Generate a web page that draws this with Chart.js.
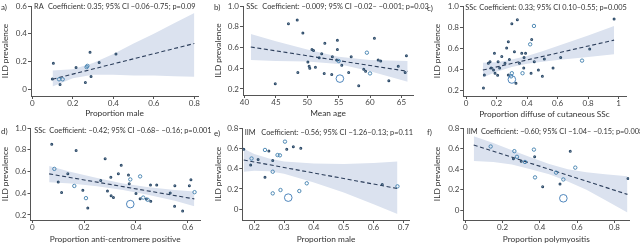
<!DOCTYPE html>
<html>
<head>
<meta charset="utf-8">
<script src="https://cdn.jsdelivr.net/npm/chart.js@4.4.1/dist/chart.umd.min.js"></script>
<style>
  body { margin: 0; background: #fff; width: 640px; height: 245px; overflow: hidden; position: relative; font-family: Lato, sans-serif; color: #333; }
  .panel { position: absolute; }
  .panel canvas { position: absolute; left: 0; top: 0; }
  .txt { position: absolute; white-space: pre; line-height: 1; color: #333; }
</style>
</head>
<body>
<script>
// ---- data: [x, ILD prevalence, study weight 1-3] ----
const ptsA = [[0.104, 0.188, 1], [0.099, 0.075, 1], [0.132, 0.072, 2], [0.15, 0.072, 2], [0.137, 0.034, 1],
  [0.216, 0.157, 1], [0.262, 0.05, 1], [0.272, 0.169, 2], [0.268, 0.16, 2], [0.285, 0.267, 1],
  [0.29, 0.092, 1], [0.33, 0.193, 1], [0.413, 0.255, 1]];
const ptsB = [[47.0, 0.83, 1], [48.4, 0.865, 1], [49.3, 0.74, 1], [44.9, 0.25, 1], [48.5, 0.36, 1],
  [50.75, 0.58, 1], [51.0, 0.57, 1], [50.1, 0.46, 1], [50.3, 0.42, 1], [50.4, 0.40, 1],
  [51.3, 0.41, 1], [51.9, 0.50, 1], [52.3, 0.54, 1], [52.8, 0.64, 1], [52.7, 0.35, 1],
  [53.9, 0.34, 1], [54.0, 0.51, 1], [54.8, 0.67, 1], [54.8, 0.58, 1], [54.7, 0.48, 1],
  [55.0, 0.47, 2], [55.2, 0.30, 3], [55.5, 0.43, 1], [56.6, 0.36, 1], [57.0, 0.51, 1],
  [58.2, 0.23, 1], [59.5, 0.55, 2], [59.0, 0.39, 1], [59.3, 0.37, 1], [60.0, 0.35, 2],
  [60.7, 0.69, 1], [61.3, 0.48, 1], [61.7, 0.47, 1], [63.0, 0.28, 1], [64.5, 0.42, 1],
  [65.6, 0.36, 1], [65.8, 0.52, 1]];
const ptsC = [[0.114, 0.22, 1], [0.12, 0.343, 1], [0.146, 0.454, 1], [0.157, 0.47, 1], [0.164, 0.41, 1],
  [0.18, 0.39, 1], [0.186, 0.55, 1], [0.19, 0.36, 1], [0.207, 0.34, 1], [0.21, 0.47, 1],
  [0.22, 0.41, 1], [0.234, 0.52, 1], [0.255, 0.454, 1], [0.266, 0.60, 1], [0.277, 0.66, 1],
  [0.277, 0.343, 1], [0.284, 0.49, 1], [0.295, 0.33, 2], [0.30, 0.36, 2], [0.30, 0.30, 3],
  [0.30, 0.83, 1], [0.317, 0.565, 1], [0.327, 0.264, 1], [0.336, 0.87, 1], [0.35, 0.454, 1],
  [0.365, 0.55, 1], [0.37, 0.36, 2], [0.378, 0.41, 1], [0.38, 0.51, 1], [0.39, 0.55, 1],
  [0.42, 0.635, 2], [0.426, 0.36, 1], [0.43, 0.68, 1], [0.445, 0.81, 2], [0.447, 0.47, 1],
  [0.474, 0.39, 1], [0.50, 0.33, 1], [0.513, 0.495, 1], [0.57, 0.41, 1], [0.62, 0.51, 1],
  [0.76, 0.48, 2], [0.81, 0.59, 1], [0.97, 0.876, 1]];
const ptsD = [[0.075, 0.85, 1], [0.169, 0.794, 1], [0.085, 0.624, 2], [0.10, 0.503, 1], [0.113, 0.406, 1],
  [0.137, 0.58, 1], [0.162, 0.467, 2], [0.195, 0.427, 1], [0.207, 0.355, 2], [0.214, 0.264, 1],
  [0.281, 0.718, 1], [0.343, 0.658, 1], [0.303, 0.548, 1], [0.264, 0.518, 1], [0.29, 0.42, 1],
  [0.304, 0.376, 1], [0.313, 0.36, 1], [0.378, 0.30, 3], [0.371, 0.567, 1], [0.378, 0.527, 2],
  [0.374, 0.488, 1], [0.40, 0.397, 1], [0.416, 0.555, 2], [0.416, 0.35, 1], [0.428, 0.36, 2],
  [0.44, 0.348, 1], [0.445, 0.34, 2], [0.457, 0.327, 1], [0.456, 0.476, 1], [0.48, 0.476, 1],
  [0.532, 0.403, 1], [0.549, 0.28, 1], [0.58, 0.236, 1], [0.55, 0.47, 1], [0.606, 0.47, 1],
  [0.612, 0.524, 1], [0.626, 0.41, 2], [0.332, 0.58, 1]];
const ptsE = [[0.165, 0.59, 1], [0.191, 0.50, 2], [0.188, 0.436, 1], [0.213, 0.49, 1], [0.236, 0.584, 2],
  [0.249, 0.574, 1], [0.236, 0.315, 1], [0.262, 0.48, 1], [0.262, 0.37, 2], [0.262, 0.157, 2],
  [0.278, 0.534, 2], [0.286, 0.531, 2], [0.288, 0.19, 2], [0.303, 0.666, 2], [0.309, 0.59, 1],
  [0.314, 0.115, 3], [0.331, 0.616, 1], [0.351, 0.18, 2], [0.356, 0.60, 1], [0.376, 0.256, 2],
  [0.629, 0.245, 1], [0.68, 0.226, 2]];
const ptsF = [[0.136, 0.62, 2], [0.263, 0.575, 2], [0.277, 0.52, 2], [0.258, 0.50, 1], [0.30, 0.476, 1],
  [0.32, 0.47, 2], [0.368, 0.59, 2], [0.372, 0.52, 1], [0.374, 0.32, 2], [0.415, 0.23, 1],
  [0.487, 0.366, 2], [0.508, 0.256, 1], [0.526, 0.30, 2], [0.526, 0.117, 3], [0.563, 0.573, 1],
  [0.59, 0.415, 2], [0.873, 0.31, 1]];

// fitted line (two ends) and 95% CI band
const fitA = [[0.1, 0.073], [0.8, 0.33]];
const bandXA = [0.1, 0.2, 0.3, 0.4, 0.5, 0.6, 0.7, 0.8];
const bandUpA = [0.135, 0.145, 0.19, 0.255, 0.33, 0.40, 0.475, 0.55];
const bandLoA = [0.02, 0.08, 0.105, 0.105, 0.10, 0.10, 0.095, 0.09];

const fitB = [[41, 0.605], [66, 0.37]];
const bandXB = [41, 45, 50, 55, 60, 66];
const bandUpB = [0.73, 0.66, 0.58, 0.51, 0.48, 0.47];
const bandLoB = [0.48, 0.47, 0.465, 0.44, 0.37, 0.27];

const fitC = [[0.11, 0.39], [0.97, 0.675]];
const bandXC = [0.11, 0.2, 0.3, 0.4, 0.5, 0.6, 0.7, 0.8, 0.97];
const bandUpC = [0.46, 0.465, 0.49, 0.525, 0.57, 0.62, 0.67, 0.72, 0.81];
const bandLoC = [0.32, 0.375, 0.42, 0.45, 0.47, 0.485, 0.50, 0.515, 0.54];

const fitD = [[0.065, 0.578], [0.625, 0.348]];
const bandXD = [0.065, 0.15, 0.25, 0.35, 0.45, 0.55, 0.625];
const bandUpD = [0.65, 0.595, 0.54, 0.49, 0.455, 0.43, 0.415];
const bandLoD = [0.50, 0.49, 0.465, 0.43, 0.385, 0.33, 0.28];

const fitE = [[0.165, 0.485], [0.68, 0.205]];
const bandXE = [0.165, 0.2, 0.25, 0.3, 0.4, 0.5, 0.6, 0.68];
const bandUpE = [0.595, 0.545, 0.50, 0.47, 0.45, 0.445, 0.455, 0.47];
const bandLoE = [0.37, 0.38, 0.375, 0.35, 0.265, 0.165, 0.05, -0.045];

const fitF = [[0.045, 0.635], [0.87, 0.155]];
const bandXF = [0.045, 0.15, 0.25, 0.35, 0.45, 0.55, 0.65, 0.75, 0.87];
const bandUpF = [0.72, 0.655, 0.585, 0.515, 0.45, 0.40, 0.37, 0.35, 0.33];
const bandLoF = [0.48, 0.47, 0.445, 0.40, 0.35, 0.28, 0.20, 0.10, -0.02];

// tick labels
const xTicksA = [0, 0.2, 0.4, 0.6, 0.8];
const yTicksA = [0, 0.2, 0.4, 0.6];
const xTicksB = [40, 45, 50, 55, 60, 65];
const yTicksB = [0.2, 0.4, 0.6, 0.8, 1.0];
const xTicksC = [0, 0.2, 0.4, 0.6, 0.8, 1];
const yTicksC = [0.2, 0.4, 0.6, 0.8, 1.0];
const xTicksD = [0, 0.2, 0.4, 0.6];
const yTicksD = [0.2, 0.4, 0.6, 0.8, 1.0];
const xTicksE = [0.2, 0.3, 0.4, 0.5, 0.6, 0.7];
const yTicksE = [0, 0.2, 0.4, 0.6, 0.8];
const xTicksF = [0, 0.2, 0.4, 0.6, 0.8];
const yTicksF = [0, 0.2, 0.4, 0.6, 0.8];

const xTitles = ['Proportion male', 'Mean age', 'Proportion diffuse of cutaneous SSc',
  'Proportion anti-centromere positive', 'Proportion male', 'Proportion polymyositis'];
const groups = ['RA', 'SSc', 'SSc', 'SSc', 'IIM', 'IIM'];
const coefs = [
  'Coefficient: 0.35; 95% CI \u22120.06\u20130.75; p=0.09',
  'Coefficient: \u22120.009; 95% CI \u22120.02\u2013 \u22120.001; p=0.03',
  'Coefficient: 0.33; 95% CI 0.10\u20130.55; p=0.005',
  'Coefficient: \u22120.42; 95% CI \u22120.68\u2013 \u22120.16; p=0.001',
  'Coefficient: \u22120.56; 95% CI \u22121.26\u20130.13; p=0.11',
  'Coefficient: \u22120.60; 95% CI \u22121.04\u2013 \u22120.15; p=0.008'
];

// ---- layout (pixels inside each panel) ----
const panels = [
  { tag: 'a)', left: 0, top: 0, w: 213, h: 122, pts: ptsA, fit: fitA, bx: bandXA, bu: bandUpA, bl: bandLoA, xt: xTicksA, yt: yTicksA,
    plotL: 31, plotT: 6, plotB: 96, plotR: 198, xMin: -0.0064, xMax: 0.818, yMin: -0.048, yMax: 0.6,
    grpX: 34, coefX: 48, textY: 7.3, yTitlePad: 0, xTitlePad: 3.4 },
  { tag: 'b)', left: 213, top: 0, w: 213, h: 122, pts: ptsB, fit: fitB, bx: bandXB, bu: bandUpB, bl: bandLoB, xt: xTicksB, yt: yTicksB,
    plotL: 30, plotT: 6, plotB: 95, plotR: 200, xMin: 39.76, xMax: 66.85, yMin: 0.142, yMax: 1.0,
    grpX: 33.3, coefX: 49.3, textY: 7.3, yTitlePad: 0, xTitlePad: 3.4 },
  { tag: 'c)', left: 426, top: 0, w: 214, h: 122, pts: ptsC, fit: fitC, bx: bandXC, bu: bandUpC, bl: bandLoC, xt: xTicksC, yt: yTicksC,
    plotL: 37, plotT: 6, plotB: 96, plotR: 200, xMin: -0.02, xMax: 1.048, yMin: 0.143, yMax: 1.0,
    grpX: 39.3, coefX: 53.3, textY: 8.3, yTitlePad: 6, xTitlePad: 3 },
  { tag: 'd)', left: 0, top: 122, w: 213, h: 123, pts: ptsD, fit: fitD, bx: bandXD, bu: bandUpD, bl: bandLoD, xt: xTicksD, yt: yTicksD,
    plotL: 30.5, plotT: 6, plotB: 98, plotR: 200, xMin: -0.007, xMax: 0.647, yMin: 0.154, yMax: 1.0,
    grpX: 34.3, coefX: 49.3, textY: 9.3, yTitlePad: 0, xTitlePad: 0.6 },
  { tag: 'e)', left: 213, top: 122, w: 213, h: 123, pts: ptsE, fit: fitE, bx: bandXE, bu: bandUpE, bl: bandLoE, xt: xTicksE, yt: yTicksE,
    plotL: 29.3, plotT: 6, plotB: 98, plotR: 196.7, xMin: 0.16, xMax: 0.721, yMin: -0.105, yMax: 0.8,
    grpX: 31.7, coefX: 48.3, textY: 11.3, yTitlePad: 0, xTitlePad: 0.6 },
  { tag: 'f)', left: 426, top: 122, w: 214, h: 123, pts: ptsF, fit: fitF, bx: bandXF, bu: bandUpF, bl: bandLoF, xt: xTicksF, yt: yTicksF,
    plotL: 37.3, plotT: 6, plotB: 98, plotR: 203.3, xMin: -0.011, xMax: 0.88, yMin: -0.094, yMax: 0.8,
    grpX: 40.7, coefX: 55, textY: 10.3, yTitlePad: 6, xTitlePad: 0.6 }
];

const radiusByWeight = { 1: 0.9, 2: 1.7, 3: 3.8 };
const colorByWeight = { 1: '#2f4d6b', 2: '#3f7fae', 3: '#3b78b4' };
const axisColor = '#555';
const tickFont = { family: 'Lato', size: 8 };
const titleFont = { family: 'Lato', size: 8.3 };
const COEF_SIZE = 7.4;

function addText(parent, text, x, yc, size) {
  const s = document.createElement('span');
  s.className = 'txt';
  s.textContent = text;
  s.style.fontSize = size + 'px';
  s.style.left = x + 'px';
  s.style.top = (yc - size * 0.55) + 'px';
  parent.appendChild(s);
}

function drawPanel(p, i) {
  const box = document.createElement('div');
  box.className = 'panel';
  Object.assign(box.style, { left: p.left + 'px', top: p.top + 'px', width: p.w + 'px', height: p.h + 'px' });
  const canvas = document.createElement('canvas');
  canvas.width = p.w;
  canvas.height = p.h;
  box.appendChild(canvas);
  document.body.appendChild(box);

  addText(box, p.tag, 1, p.textY, 8);
  addText(box, groups[i], p.grpX, p.textY, COEF_SIZE);
  addText(box, coefs[i], p.coefX, p.textY, COEF_SIZE);

  const xy = arr => arr.map(d => ({ x: d[0], y: d[1] }));
  new Chart(canvas, {
    type: 'scatter',
    data: {
      datasets: [
        {
          data: xy(p.pts),
          pointRadius: p.pts.map(d => radiusByWeight[d[2]]),
          pointBorderColor: p.pts.map(d => colorByWeight[d[2]]),
          pointBackgroundColor: 'rgba(255,255,255,0)',
          pointBorderWidth: p.pts.map(d => d[2] === 1 ? 1.2 : 0.9)
        },
        {
          type: 'line',
          data: xy(p.fit),
          borderColor: '#2b3d5a',
          borderWidth: 1.1,
          borderDash: [4, 2.6],
          pointRadius: 0,
          fill: false
        },
        {
          type: 'line',
          data: p.bx.map((x, k) => ({ x, y: p.bu[k] })),
          borderColor: 'rgba(0,0,0,0)',
          borderWidth: 0,
          pointRadius: 0,
          backgroundColor: '#dbe2ef',
          fill: '+1'
        },
        {
          type: 'line',
          data: p.bx.map((x, k) => ({ x, y: p.bl[k] })),
          borderColor: 'rgba(0,0,0,0)',
          borderWidth: 0,
          pointRadius: 0,
          fill: false
        }
      ]
    },
    options: {
      responsive: false,
      animation: false,
      devicePixelRatio: 1,
      layout: { padding: { top: p.plotT, right: p.w - p.plotR, left: 0, bottom: 0 } },
      plugins: { legend: { display: false }, tooltip: { enabled: false } },
      scales: {
        x: {
          type: 'linear',
          min: p.xMin,
          max: p.xMax,
          afterBuildTicks: s => { s.ticks = p.xt.map(v => ({ value: v })); },
          afterFit: s => { s.height = p.h - p.plotB; },
          grid: { drawOnChartArea: false, tickLength: 3, color: axisColor, tickColor: axisColor },
          border: { color: axisColor },
          ticks: { font: tickFont, color: '#444', padding: 0, maxRotation: 0, autoSkip: false, callback: v => String(v) },
          title: { display: true, text: xTitles[i], font: titleFont, color: '#333', padding: { top: 0, bottom: p.xTitlePad } }
        },
        y: {
          type: 'linear',
          min: p.yMin,
          max: p.yMax,
          afterBuildTicks: s => { s.ticks = p.yt.map(v => ({ value: v })); },
          afterFit: s => { s.width = p.plotL; },
          grid: { drawOnChartArea: false, tickLength: 3, color: axisColor, tickColor: axisColor },
          border: { color: axisColor },
          ticks: { font: tickFont, color: '#444', padding: 1, callback: v => v === 0 ? '0' : v.toFixed(1) },
          title: { display: true, text: 'ILD prevalence', font: titleFont, color: '#333', padding: { top: p.yTitlePad, bottom: 0 } }
        }
      }
    }
  });
}

panels.forEach(drawPanel);
</script>
</body>
</html>
